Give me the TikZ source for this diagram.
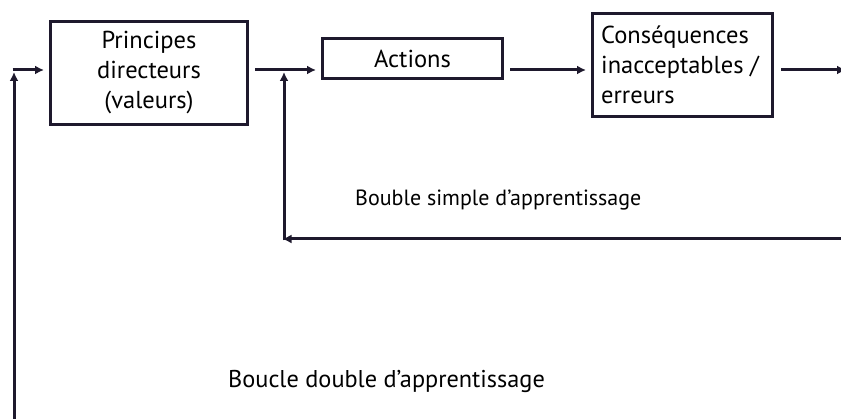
\documentclass[tikz,border=0pt]{standalone}
\usepackage{fontspec}
\setmainfont{PT Sans}
\usetikzlibrary{arrows.meta}
\definecolor{ln}{RGB}{30,25,45}
\begin{document}
\begin{tikzpicture}[x=1pt,y=-1pt,
  box/.style={draw=ln, line width=3pt, inner sep=0pt},
  arr/.style={draw=ln, line width=3pt, -{Latex[length=9pt,width=9pt]}},
  boxfont/.style={font=\fontsize{24.5}{30}\selectfont}]
\useasboundingbox (0,0) rectangle (841,419);
\fill[white] (0,0) rectangle (841,419);
% boxes
\node[box, boxfont, minimum width=197pt, minimum height=103pt, align=center] (p) at (149,73) {Principes\\directeurs\\(valeurs)};
\node[box, boxfont, minimum width=180pt, minimum height=40pt] (a) at (412.5,58.5) {Actions};
\node[box, minimum width=180pt, minimum height=103pt] (c) at (682.5,65) {};
\node[boxfont, align=left, anchor=west, inner sep=0pt] (ct) at (601,65) {Conséquences\\inacceptables /\\erreurs};
% coordinates
\coordinate (l0) at (14,422);
\coordinate (l1) at (14,72);
\coordinate (l1c) at (12.5,70);
\coordinate (l2) at (44,70);
\coordinate (m0) at (255,70);
\coordinate (m1) at (316,70);
\coordinate (j) at (284,72);
\coordinate (a1) at (510,70);
\coordinate (a2) at (586,70);
\coordinate (r0) at (781,70);
\coordinate (r1) at (846,70);
\coordinate (f0) at (845,239);
\coordinate (f1) at (282.5,239);
\coordinate (f2) at (284,240.5);
% connectors
\draw[arr] (l0) -- (l1);
\draw[arr] (l1c) -- (l2);
\draw[arr] (m0) -- (m1);
\draw[arr] (a1) -- (a2);
\draw[arr] (r0) -- (r1);
\draw[arr] (f0) -- (f1);
\draw[arr] (f2) -- (j);
% labels
\node[anchor=base west, inner sep=0pt, font=\fontsize{22}{26}\selectfont] (s) at (355,206) {Bouble simple d’apprentissage};
\node[anchor=base west, inner sep=0pt, font=\fontsize{24.3}{28}\selectfont] (d) at (228,388) {Boucle double d’apprentissage};
\end{tikzpicture}
\end{document}
